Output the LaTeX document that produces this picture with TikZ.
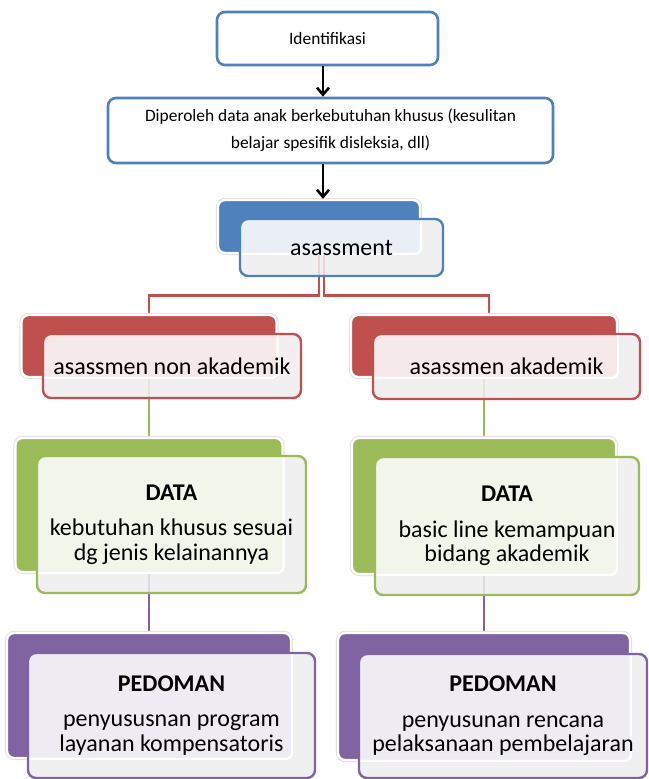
\documentclass[tikz,border=0pt]{standalone}
\usepackage{fontspec}
\setmainfont{Carlito}
\usetikzlibrary{arrows.meta}
\definecolor{cblue}{HTML}{4F81BD}
\definecolor{cred}{HTML}{C0504D}
\definecolor{cgreen}{HTML}{9BBB59}
\definecolor{cpurple}{HTML}{8064A2}
\pgfdeclarelayer{background}
\pgfsetlayers{background,main}
\begin{document}
\begin{tikzpicture}[x=1pt,y=-1pt,
  topbox/.style={rectangle, rounded corners=8pt, draw=cblue, line width=2.6pt, fill=white,
    align=center, inner sep=0pt, font=\fontsize{17.4}{27}\selectfont},
  backbox/.style={rectangle, rounded corners=7pt, fill=#1, draw=white, line width=2.4pt,
    inner sep=0pt, preaction={draw=black!12, line width=4.2pt}},
  frontbox/.style 2 args={rectangle, rounded corners=8pt, draw=#1, line width=2.4pt,
    fill=black!7, fill opacity=0.86, text opacity=1, align=center, inner sep=0pt,
    path picture={\fill[#1!10!white, rounded corners=7pt] (#2.north west) rectangle (#2.south east);
      \draw[white, line width=2pt, rounded corners=7pt] (#2.north west) rectangle (#2.south east);}},
  bigtext/.style={font=\fontsize{24}{24.5}\selectfont},
  arr/.style={draw=black, line width=2.6pt, -{Straight Barb[length=7pt,width=12pt]}},
  link/.style={line width=2.3pt, draw=#1}
]
\useasboundingbox (0,0) rectangle (648,779);

% top boxes
\node[topbox, minimum width=221pt, minimum height=53pt] (id) at (327.5,38.5) {Identifikasi};
\node[topbox, minimum width=445pt, minimum height=65pt] (dp) at (330.5,130.5)
  {Diperoleh data anak berkebutuhan khusus (kesulitan\\belajar spesifik disleksia, dll)};

% asassment
\node[backbox=cblue, minimum width=202pt, minimum height=53pt] (asb) at (319,226.5) {};
\node[frontbox={cblue}{asb}, bigtext, minimum width=203pt, minimum height=57pt] (as) at (341.5,247.5) {asassment};

% red level
\node[backbox=cred, minimum width=255pt, minimum height=62pt] (nab) at (149,346) {};
\node[frontbox={cred}{nab}, bigtext, minimum width=258pt, minimum height=64pt] (na) at (172,366) {asassmen non akademik};
\node[backbox=cred, minimum width=266pt, minimum height=62pt] (akb) at (484,346) {};
\node[frontbox={cred}{akb}, bigtext, minimum width=267pt, minimum height=65pt] (ak) at (506.5,366.5) {asassmen akademik};

% green level
\node[backbox=cgreen, minimum width=267pt, minimum height=134pt] (d1b) at (149,505) {};
\node[frontbox={cgreen}{d1b}, bigtext, minimum width=269pt, minimum height=137pt] (d1) at (171.5,524.5)
  {\textbf{DATA}\\[11pt]kebutuhan khusus sesuai\\dg jenis kelainannya};
\node[backbox=cgreen, minimum width=264pt, minimum height=136pt] (d2b) at (484,506) {};
\node[frontbox={cgreen}{d2b}, bigtext, minimum width=264pt, minimum height=138pt] (d2) at (507,526)
  {\textbf{DATA}\\[11pt]basic line kemampuan\\bidang akademik};

% purple level
\node[backbox=cpurple, minimum width=284pt, minimum height=125pt] (p1b) at (149,695.5) {};
\node[frontbox={cpurple}{p1b}, bigtext, minimum width=287pt, minimum height=125pt] (p1) at (171.5,715.5)
  {\textbf{PEDOMAN}\\[11pt]penyususnan program\\layanan kompensatoris};
\node[backbox=cpurple, minimum width=292pt, minimum height=127pt] (p2b) at (484,696.5) {};
\node[frontbox={cpurple}{p2b}, bigtext, minimum width=288pt, minimum height=124pt] (p2) at (503,716)
  {\textbf{PEDOMAN}\\[11pt]penyusunan rencana\\pelaksanaan pembelajaran};

% arrows
\draw[arr] ([xshift=-4.5pt]id.south) -- ([xshift=-4.5pt]id.south |- dp.north);
\draw[arr] ([xshift=-7.5pt]dp.south) -- ([xshift=-7.5pt]dp.south |- asb.north);

% connectors behind boxes
\coordinate (bus) at (0,295.5);
\begin{pgfonlayer}{background}
\draw[link=cred] (asb.center) -- (asb.center |- bus) -| (nab.center);
\draw[link=cred] ([xshift=5pt]asb.center) -- ([xshift=5pt]asb.center |- bus) -| ([xshift=5pt]akb.center);
\draw[link=cgreen] (nab.center) -- (d1b.center);
\draw[link=cgreen] (akb.center) -- (d2b.center);
\draw[link=cpurple] (d1b.center) -- (p1b.center);
\draw[link=cpurple] (d2b.center) -- (p2b.center);
\end{pgfonlayer}
\end{tikzpicture}
\end{document}
